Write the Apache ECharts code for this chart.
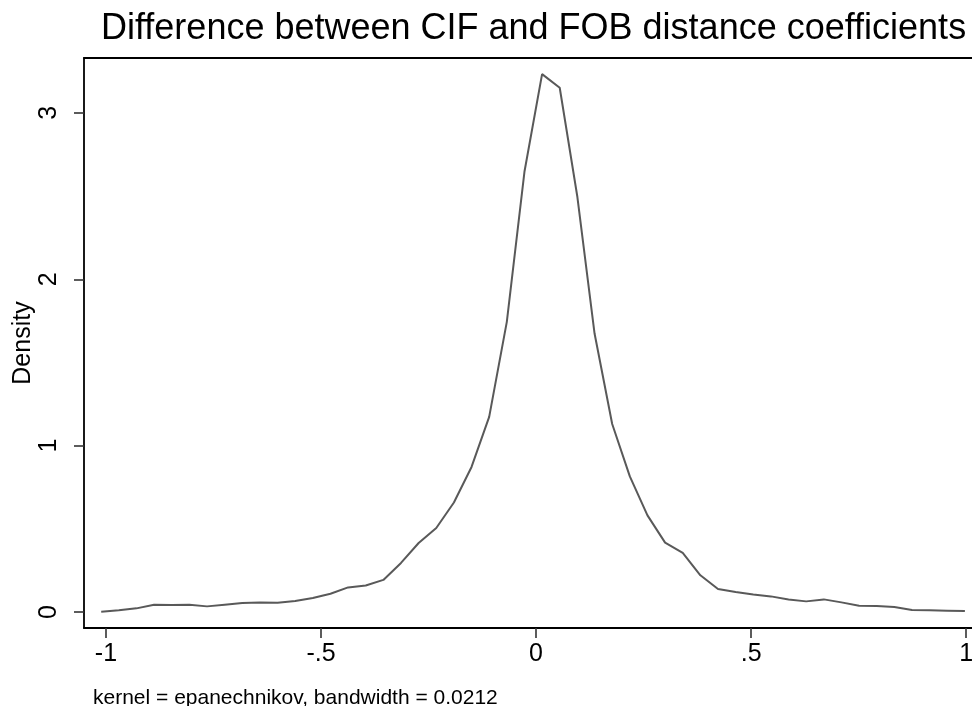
<!DOCTYPE html>
<html>
<head>
<meta charset="utf-8">
<script src="https://cdn.jsdelivr.net/npm/echarts@6/dist/echarts.min.js"></script>
<style>
html,body{margin:0;padding:0;background:#fff;}
#chart{width:972px;height:706px;}
</style>
</head>
<body>
<div id="chart"></div>
<script>
// Evaluation grid (x) and kernel density estimates (y)
const xValues = [
  -1.011, -0.970, -0.929, -0.888, -0.847, -0.806, -0.765, -0.724, -0.683, -0.642,
  -0.601, -0.560, -0.519, -0.478, -0.437, -0.396, -0.355, -0.314, -0.273, -0.232,
  -0.191, -0.150, -0.109, -0.068, -0.027, 0.014, 0.055, 0.096, 0.136, 0.177,
  0.218, 0.259, 0.300, 0.341, 0.382, 0.423, 0.464, 0.505, 0.546, 0.587,
  0.628, 0.669, 0.710, 0.751, 0.792, 0.833, 0.874, 0.915, 0.956, 0.997
];
const densityValues = [
  0.002, 0.010, 0.022, 0.044, 0.042, 0.044, 0.034, 0.044, 0.054, 0.058,
  0.056, 0.066, 0.084, 0.110, 0.148, 0.159, 0.193, 0.295, 0.415, 0.505,
  0.658, 0.872, 1.173, 1.744, 2.646, 3.233, 3.151, 2.496, 1.674, 1.130,
  0.815, 0.581, 0.417, 0.355, 0.221, 0.138, 0.120, 0.105, 0.094, 0.075,
  0.064, 0.076, 0.058, 0.038, 0.036, 0.030, 0.012, 0.010, 0.008, 0.006
];
const xTickValues = [-1, -0.5, 0, 0.5, 1];
const xTickLabels = ['-1', '-.5', '0', '.5', '1'];
const yTickValues = [0, 1, 2, 3];
const yTickLabels = ['0', '1', '2', '3'];
const titleText = 'Difference between CIF and FOB distance coefficients';
const noteText = 'kernel = epanechnikov, bandwidth = 0.0212';
const yAxisTitle = 'Density';

const FONT = 'Liberation Sans, Arial, Helvetica, sans-serif';
const seriesData = xValues.map((x, i) => [x, densityValues[i]]);

const chart = echarts.init(document.getElementById('chart'), null, {renderer: 'canvas'});
chart.setOption({
  backgroundColor: '#ffffff',
  animation: false,
  title: [
    {text: titleText, left: 96, top: 6,
     textStyle: {fontFamily: FONT, fontSize: 36, fontWeight: 'normal', color: '#000'}},
    {text: noteText, left: 88, top: 683,
     textStyle: {fontFamily: FONT, fontSize: 21, fontWeight: 'normal', color: '#000'}}
  ],
  grid: {left: 84, right: 0, top: 58, bottom: 78, containLabel: false, outerBoundsMode: 'none'},
  xAxis: [
    {
      type: 'value', min: -1.051, max: 1.0135, position: 'bottom',
      axisLine: {show: true, onZero: false, lineStyle: {color: '#000', width: 1.8}},
      axisTick: {show: true, customValues: xTickValues, length: 10, inside: false,
                 lineStyle: {color: '#333', width: 1.6}},
      axisLabel: {show: true, customValues: xTickValues, margin: 14,
                  fontFamily: FONT, fontSize: 25, color: '#000',
                  formatter: v => { const i = xTickValues.findIndex(t => Math.abs(t - v) < 1e-9); return i >= 0 ? xTickLabels[i] : ''; }},
      splitLine: {show: false}
    },
    {
      type: 'value', min: -1.051, max: 1.0135, position: 'top',
      axisLine: {show: true, onZero: false, lineStyle: {color: '#000', width: 1.8}},
      axisTick: {show: false}, axisLabel: {show: false}, splitLine: {show: false}
    }
  ],
  yAxis: {
    type: 'value', min: -0.096, max: 3.33, position: 'left',
    name: yAxisTitle, nameLocation: 'middle', nameGap: 48, nameRotate: 90,
    nameMoveOverlap: false,
    nameTextStyle: {fontFamily: FONT, fontSize: 25, color: '#000'},
    axisLine: {show: true, onZero: false, lineStyle: {color: '#000', width: 1.8}},
    axisTick: {show: true, customValues: yTickValues, length: 10, inside: false,
               lineStyle: {color: '#333', width: 1.6}},
    axisLabel: {show: true, customValues: yTickValues, rotate: 90, margin: 22,
                fontFamily: FONT, fontSize: 25, color: '#000',
                formatter: v => { const i = yTickValues.findIndex(t => Math.abs(t - v) < 1e-9); return i >= 0 ? yTickLabels[i] : ''; }},
    splitLine: {show: false}
  },
  series: [{
    type: 'line', xAxisIndex: 0, data: seriesData, showSymbol: false, symbol: 'none',
    lineStyle: {color: '#595959', width: 2}, smooth: false
  }]
});
</script>
</body>
</html>
